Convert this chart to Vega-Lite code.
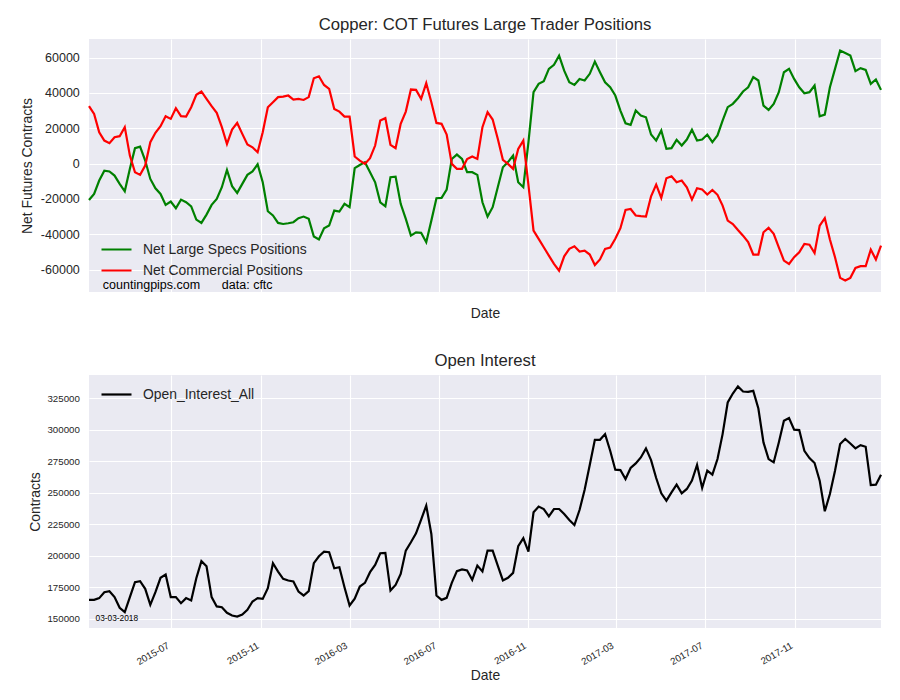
{
 "$schema": "https://vega.github.io/schema/vega-lite/v6.json",
 "background": "white",
 "padding": {"left": 20, "top": 17, "right": 5, "bottom": 5},
 "spacing": 33,
 "datasets": {"cot": [
{"date":"2015-03-10","Net Large Specs Positions":-20600,"Net Commercial Positions":32500,"Open_Interest_All":165000},
{"date":"2015-03-17","Net Large Specs Positions":-17200,"Net Commercial Positions":28100,"Open_Interest_All":165000},
{"date":"2015-03-24","Net Large Specs Positions":-9600,"Net Commercial Positions":17700,"Open_Interest_All":166400},
{"date":"2015-03-31","Net Large Specs Positions":-4000,"Net Commercial Positions":13000,"Open_Interest_All":171100},
{"date":"2015-04-07","Net Large Specs Positions":-4500,"Net Commercial Positions":11500,"Open_Interest_All":171900},
{"date":"2015-04-14","Net Large Specs Positions":-6800,"Net Commercial Positions":14900,"Open_Interest_All":167200},
{"date":"2015-04-21","Net Large Specs Positions":-11500,"Net Commercial Positions":15500,"Open_Interest_All":158700},
{"date":"2015-04-28","Net Large Specs Positions":-15700,"Net Commercial Positions":20600,"Open_Interest_All":155300},
{"date":"2015-05-05","Net Large Specs Positions":-3000,"Net Commercial Positions":4500,"Open_Interest_All":167200},
{"date":"2015-05-12","Net Large Specs Positions":8700,"Net Commercial Positions":-4900,"Open_Interest_All":179000},
{"date":"2015-05-19","Net Large Specs Positions":9600,"Net Commercial Positions":-6400,"Open_Interest_All":179800},
{"date":"2015-05-26","Net Large Specs Positions":1700,"Net Commercial Positions":-1100,"Open_Interest_All":173800},
{"date":"2015-06-02","Net Large Specs Positions":-8700,"Net Commercial Positions":12100,"Open_Interest_All":161100},
{"date":"2015-06-09","Net Large Specs Positions":-14000,"Net Commercial Positions":17400,"Open_Interest_All":171100},
{"date":"2015-06-16","Net Large Specs Positions":-17200,"Net Commercial Positions":21100,"Open_Interest_All":182500},
{"date":"2015-06-23","Net Large Specs Positions":-23400,"Net Commercial Positions":26800,"Open_Interest_All":185100},
{"date":"2015-06-30","Net Large Specs Positions":-21500,"Net Commercial Positions":25300,"Open_Interest_All":167200},
{"date":"2015-07-07","Net Large Specs Positions":-25300,"Net Commercial Positions":31300,"Open_Interest_All":167200},
{"date":"2015-07-14","Net Large Specs Positions":-20400,"Net Commercial Positions":26800,"Open_Interest_All":162400},
{"date":"2015-07-21","Net Large Specs Positions":-21900,"Net Commercial Positions":26600,"Open_Interest_All":166400},
{"date":"2015-07-28","Net Large Specs Positions":-24200,"Net Commercial Positions":31900,"Open_Interest_All":164500},
{"date":"2015-08-04","Net Large Specs Positions":-31700,"Net Commercial Positions":38900,"Open_Interest_All":182200},
{"date":"2015-08-11","Net Large Specs Positions":-33600,"Net Commercial Positions":40800,"Open_Interest_All":195700},
{"date":"2015-08-18","Net Large Specs Positions":-28900,"Net Commercial Positions":36600,"Open_Interest_All":191700},
{"date":"2015-08-25","Net Large Specs Positions":-23400,"Net Commercial Positions":32500,"Open_Interest_All":167200},
{"date":"2015-09-01","Net Large Specs Positions":-20000,"Net Commercial Positions":28700,"Open_Interest_All":159800},
{"date":"2015-09-08","Net Large Specs Positions":-13400,"Net Commercial Positions":20600,"Open_Interest_All":159200},
{"date":"2015-09-15","Net Large Specs Positions":-3600,"Net Commercial Positions":11100,"Open_Interest_All":154800},
{"date":"2015-09-22","Net Large Specs Positions":-12800,"Net Commercial Positions":19200,"Open_Interest_All":152600},
{"date":"2015-09-29","Net Large Specs Positions":-16600,"Net Commercial Positions":23000,"Open_Interest_All":151800},
{"date":"2015-10-06","Net Large Specs Positions":-11500,"Net Commercial Positions":16800,"Open_Interest_All":153400},
{"date":"2015-10-13","Net Large Specs Positions":-6400,"Net Commercial Positions":10800,"Open_Interest_All":157100},
{"date":"2015-10-20","Net Large Specs Positions":-4500,"Net Commercial Positions":9200,"Open_Interest_All":163700},
{"date":"2015-10-27","Net Large Specs Positions":-400,"Net Commercial Positions":6400,"Open_Interest_All":166400},
{"date":"2015-11-03","Net Large Specs Positions":-10600,"Net Commercial Positions":17700,"Open_Interest_All":165800},
{"date":"2015-11-10","Net Large Specs Positions":-27000,"Net Commercial Positions":31900,"Open_Interest_All":174300},
{"date":"2015-11-17","Net Large Specs Positions":-29400,"Net Commercial Positions":34700,"Open_Interest_All":194100},
{"date":"2015-11-24","Net Large Specs Positions":-33600,"Net Commercial Positions":37600,"Open_Interest_All":187500},
{"date":"2015-12-01","Net Large Specs Positions":-34200,"Net Commercial Positions":37900,"Open_Interest_All":181700},
{"date":"2015-12-08","Net Large Specs Positions":-33800,"Net Commercial Positions":38500,"Open_Interest_All":180400},
{"date":"2015-12-15","Net Large Specs Positions":-33200,"Net Commercial Positions":36200,"Open_Interest_All":179600},
{"date":"2015-12-22","Net Large Specs Positions":-30900,"Net Commercial Positions":36600,"Open_Interest_All":171600},
{"date":"2015-12-29","Net Large Specs Positions":-30000,"Net Commercial Positions":36000,"Open_Interest_All":168500},
{"date":"2016-01-05","Net Large Specs Positions":-31300,"Net Commercial Positions":37600,"Open_Interest_All":171900},
{"date":"2016-01-12","Net Large Specs Positions":-41300,"Net Commercial Positions":48300,"Open_Interest_All":194100},
{"date":"2016-01-19","Net Large Specs Positions":-43000,"Net Commercial Positions":49400,"Open_Interest_All":199600},
{"date":"2016-01-26","Net Large Specs Positions":-36600,"Net Commercial Positions":44500,"Open_Interest_All":203300},
{"date":"2016-02-02","Net Large Specs Positions":-35100,"Net Commercial Positions":42300,"Open_Interest_All":202800},
{"date":"2016-02-09","Net Large Specs Positions":-26600,"Net Commercial Positions":30900,"Open_Interest_All":190100},
{"date":"2016-02-16","Net Large Specs Positions":-27200,"Net Commercial Positions":29400,"Open_Interest_All":190900},
{"date":"2016-02-23","Net Large Specs Positions":-22800,"Net Commercial Positions":26600,"Open_Interest_All":175100},
{"date":"2016-03-01","Net Large Specs Positions":-24700,"Net Commercial Positions":26600,"Open_Interest_All":160600},
{"date":"2016-03-08","Net Large Specs Positions":-2600,"Net Commercial Positions":4000,"Open_Interest_All":166000},
{"date":"2016-03-15","Net Large Specs Positions":-800,"Net Commercial Positions":1700,"Open_Interest_All":175600},
{"date":"2016-03-22","Net Large Specs Positions":800,"Net Commercial Positions":-200,"Open_Interest_All":178500},
{"date":"2016-03-29","Net Large Specs Positions":-4900,"Net Commercial Positions":3000,"Open_Interest_All":187000},
{"date":"2016-04-05","Net Large Specs Positions":-10600,"Net Commercial Positions":10200,"Open_Interest_All":192800},
{"date":"2016-04-12","Net Large Specs Positions":-21900,"Net Commercial Positions":24300,"Open_Interest_All":202000},
{"date":"2016-04-19","Net Large Specs Positions":-24200,"Net Commercial Positions":25700,"Open_Interest_All":202300},
{"date":"2016-04-26","Net Large Specs Positions":-7700,"Net Commercial Positions":10600,"Open_Interest_All":172400},
{"date":"2016-05-03","Net Large Specs Positions":-7400,"Net Commercial Positions":8700,"Open_Interest_All":176900},
{"date":"2016-05-10","Net Large Specs Positions":-22800,"Net Commercial Positions":22500,"Open_Interest_All":185600},
{"date":"2016-05-17","Net Large Specs Positions":-31300,"Net Commercial Positions":29400,"Open_Interest_All":204100},
{"date":"2016-05-24","Net Large Specs Positions":-40800,"Net Commercial Positions":41900,"Open_Interest_All":210700},
{"date":"2016-05-31","Net Large Specs Positions":-38900,"Net Commercial Positions":41700,"Open_Interest_All":217800},
{"date":"2016-06-07","Net Large Specs Positions":-39200,"Net Commercial Positions":36600,"Open_Interest_All":228700},
{"date":"2016-06-14","Net Large Specs Positions":-44500,"Net Commercial Positions":45500,"Open_Interest_All":239800},
{"date":"2016-06-21","Net Large Specs Positions":-32300,"Net Commercial Positions":34700,"Open_Interest_All":217300},
{"date":"2016-06-28","Net Large Specs Positions":-19600,"Net Commercial Positions":23000,"Open_Interest_All":168500},
{"date":"2016-07-05","Net Large Specs Positions":-19400,"Net Commercial Positions":22500,"Open_Interest_All":165000},
{"date":"2016-07-12","Net Large Specs Positions":-14700,"Net Commercial Positions":16400,"Open_Interest_All":166600},
{"date":"2016-07-19","Net Large Specs Positions":2600,"Net Commercial Positions":-200,"Open_Interest_All":178500},
{"date":"2016-07-26","Net Large Specs Positions":5100,"Net Commercial Positions":-3000,"Open_Interest_All":187800},
{"date":"2016-08-02","Net Large Specs Positions":2600,"Net Commercial Positions":-3000,"Open_Interest_All":189100},
{"date":"2016-08-09","Net Large Specs Positions":-4900,"Net Commercial Positions":2600,"Open_Interest_All":188300},
{"date":"2016-08-16","Net Large Specs Positions":-4900,"Net Commercial Positions":4000,"Open_Interest_All":180900},
{"date":"2016-08-23","Net Large Specs Positions":-6400,"Net Commercial Positions":2600,"Open_Interest_All":192200},
{"date":"2016-08-30","Net Large Specs Positions":-21900,"Net Commercial Positions":20600,"Open_Interest_All":187500},
{"date":"2016-09-06","Net Large Specs Positions":-30000,"Net Commercial Positions":29100,"Open_Interest_All":204100},
{"date":"2016-09-13","Net Large Specs Positions":-24700,"Net Commercial Positions":24900,"Open_Interest_All":204100},
{"date":"2016-09-20","Net Large Specs Positions":-13400,"Net Commercial Positions":14000,"Open_Interest_All":192200},
{"date":"2016-09-27","Net Large Specs Positions":-2100,"Net Commercial Positions":2100,"Open_Interest_All":180400},
{"date":"2016-10-04","Net Large Specs Positions":800,"Net Commercial Positions":-200,"Open_Interest_All":182500},
{"date":"2016-10-11","Net Large Specs Positions":4500,"Net Commercial Positions":-3000,"Open_Interest_All":186400},
{"date":"2016-10-18","Net Large Specs Positions":-10600,"Net Commercial Positions":8300,"Open_Interest_All":207600},
{"date":"2016-10-25","Net Large Specs Positions":-13400,"Net Commercial Positions":13000,"Open_Interest_All":213900},
{"date":"2016-11-01","Net Large Specs Positions":12000,"Net Commercial Positions":-12000,"Open_Interest_All":203300},
{"date":"2016-11-08","Net Large Specs Positions":40400,"Net Commercial Positions":-37900,"Open_Interest_All":234500},
{"date":"2016-11-15","Net Large Specs Positions":45100,"Net Commercial Positions":-42600,"Open_Interest_All":239000},
{"date":"2016-11-22","Net Large Specs Positions":46600,"Net Commercial Positions":-47400,"Open_Interest_All":237100},
{"date":"2016-11-29","Net Large Specs Positions":53600,"Net Commercial Positions":-52100,"Open_Interest_All":231300},
{"date":"2016-12-06","Net Large Specs Positions":55900,"Net Commercial Positions":-56800,"Open_Interest_All":237100},
{"date":"2016-12-13","Net Large Specs Positions":61100,"Net Commercial Positions":-60600,"Open_Interest_All":237100},
{"date":"2016-12-20","Net Large Specs Positions":52600,"Net Commercial Positions":-52500,"Open_Interest_All":233200},
{"date":"2016-12-27","Net Large Specs Positions":46000,"Net Commercial Positions":-48300,"Open_Interest_All":228400},
{"date":"2017-01-03","Net Large Specs Positions":44500,"Net Commercial Positions":-46800,"Open_Interest_All":224400},
{"date":"2017-01-10","Net Large Specs Positions":47900,"Net Commercial Positions":-49800,"Open_Interest_All":236300},
{"date":"2017-01-17","Net Large Specs Positions":47000,"Net Commercial Positions":-49300,"Open_Interest_All":252400},
{"date":"2017-01-24","Net Large Specs Positions":50800,"Net Commercial Positions":-51500,"Open_Interest_All":272000},
{"date":"2017-01-31","Net Large Specs Positions":57700,"Net Commercial Positions":-57400,"Open_Interest_All":292000},
{"date":"2017-02-07","Net Large Specs Positions":51700,"Net Commercial Positions":-54300,"Open_Interest_All":292000},
{"date":"2017-02-14","Net Large Specs Positions":46000,"Net Commercial Positions":-48300,"Open_Interest_All":296500},
{"date":"2017-02-21","Net Large Specs Positions":43200,"Net Commercial Positions":-47600,"Open_Interest_All":283300},
{"date":"2017-02-28","Net Large Specs Positions":38500,"Net Commercial Positions":-42600,"Open_Interest_All":268300},
{"date":"2017-03-07","Net Large Specs Positions":30000,"Net Commercial Positions":-36600,"Open_Interest_All":268000},
{"date":"2017-03-14","Net Large Specs Positions":22800,"Net Commercial Positions":-26200,"Open_Interest_All":260900},
{"date":"2017-03-21","Net Large Specs Positions":21900,"Net Commercial Positions":-25700,"Open_Interest_All":269600},
{"date":"2017-03-28","Net Large Specs Positions":30000,"Net Commercial Positions":-29400,"Open_Interest_All":273300},
{"date":"2017-04-04","Net Large Specs Positions":27200,"Net Commercial Positions":-29800,"Open_Interest_All":278000},
{"date":"2017-04-11","Net Large Specs Positions":26200,"Net Commercial Positions":-30000,"Open_Interest_All":285200},
{"date":"2017-04-18","Net Large Specs Positions":16400,"Net Commercial Positions":-18500,"Open_Interest_All":275900},
{"date":"2017-04-25","Net Large Specs Positions":13000,"Net Commercial Positions":-11900,"Open_Interest_All":261700},
{"date":"2017-05-02","Net Large Specs Positions":18700,"Net Commercial Positions":-19400,"Open_Interest_All":249500},
{"date":"2017-05-09","Net Large Specs Positions":8300,"Net Commercial Positions":-8300,"Open_Interest_All":243700},
{"date":"2017-05-16","Net Large Specs Positions":8700,"Net Commercial Positions":-7200,"Open_Interest_All":250300},
{"date":"2017-05-23","Net Large Specs Positions":13400,"Net Commercial Positions":-10600,"Open_Interest_All":256400},
{"date":"2017-05-30","Net Large Specs Positions":10200,"Net Commercial Positions":-9600,"Open_Interest_All":249500},
{"date":"2017-06-06","Net Large Specs Positions":13600,"Net Commercial Positions":-13400,"Open_Interest_All":253000},
{"date":"2017-06-13","Net Large Specs Positions":19100,"Net Commercial Positions":-20400,"Open_Interest_All":259600},
{"date":"2017-06-20","Net Large Specs Positions":13000,"Net Commercial Positions":-14000,"Open_Interest_All":272000},
{"date":"2017-06-27","Net Large Specs Positions":13600,"Net Commercial Positions":-14700,"Open_Interest_All":253800},
{"date":"2017-07-04","Net Large Specs Positions":16400,"Net Commercial Positions":-17500,"Open_Interest_All":267500},
{"date":"2017-07-11","Net Large Specs Positions":12100,"Net Commercial Positions":-14900,"Open_Interest_All":264300},
{"date":"2017-07-18","Net Large Specs Positions":15900,"Net Commercial Positions":-17700,"Open_Interest_All":276700},
{"date":"2017-07-25","Net Large Specs Positions":24300,"Net Commercial Positions":-23800,"Open_Interest_All":296500},
{"date":"2017-08-01","Net Large Specs Positions":31900,"Net Commercial Positions":-32300,"Open_Interest_All":321600},
{"date":"2017-08-08","Net Large Specs Positions":33800,"Net Commercial Positions":-34200,"Open_Interest_All":328700},
{"date":"2017-08-15","Net Large Specs Positions":37000,"Net Commercial Positions":-37600,"Open_Interest_All":334300},
{"date":"2017-08-22","Net Large Specs Positions":40800,"Net Commercial Positions":-40800,"Open_Interest_All":330300},
{"date":"2017-08-29","Net Large Specs Positions":43200,"Net Commercial Positions":-44500,"Open_Interest_All":330000},
{"date":"2017-09-05","Net Large Specs Positions":48900,"Net Commercial Positions":-51500,"Open_Interest_All":330800},
{"date":"2017-09-12","Net Large Specs Positions":47000,"Net Commercial Positions":-51500,"Open_Interest_All":316800},
{"date":"2017-09-19","Net Large Specs Positions":32800,"Net Commercial Positions":-38900,"Open_Interest_All":289900},
{"date":"2017-09-26","Net Large Specs Positions":30400,"Net Commercial Positions":-36400,"Open_Interest_All":276700},
{"date":"2017-10-03","Net Large Specs Positions":33800,"Net Commercial Positions":-39800,"Open_Interest_All":274100},
{"date":"2017-10-10","Net Large Specs Positions":40400,"Net Commercial Positions":-47400,"Open_Interest_All":289900},
{"date":"2017-10-17","Net Large Specs Positions":51700,"Net Commercial Positions":-54900,"Open_Interest_All":307100},
{"date":"2017-10-24","Net Large Specs Positions":53600,"Net Commercial Positions":-56800,"Open_Interest_All":309200},
{"date":"2017-10-31","Net Large Specs Positions":47900,"Net Commercial Positions":-53000,"Open_Interest_All":300000},
{"date":"2017-11-07","Net Large Specs Positions":43200,"Net Commercial Positions":-50200,"Open_Interest_All":299700},
{"date":"2017-11-14","Net Large Specs Positions":39800,"Net Commercial Positions":-45500,"Open_Interest_All":283300},
{"date":"2017-11-21","Net Large Specs Positions":40400,"Net Commercial Positions":-45900,"Open_Interest_All":277500},
{"date":"2017-11-28","Net Large Specs Positions":44200,"Net Commercial Positions":-50600,"Open_Interest_All":273600},
{"date":"2017-12-05","Net Large Specs Positions":26800,"Net Commercial Positions":-35100,"Open_Interest_All":259600},
{"date":"2017-12-12","Net Large Specs Positions":27700,"Net Commercial Positions":-30900,"Open_Interest_All":235300},
{"date":"2017-12-19","Net Large Specs Positions":43200,"Net Commercial Positions":-43000,"Open_Interest_All":249000},
{"date":"2017-12-26","Net Large Specs Positions":53600,"Net Commercial Positions":-53000,"Open_Interest_All":267500},
{"date":"2018-01-02","Net Large Specs Positions":64000,"Net Commercial Positions":-64700,"Open_Interest_All":288600},
{"date":"2018-01-09","Net Large Specs Positions":62600,"Net Commercial Positions":-66200,"Open_Interest_All":292600},
{"date":"2018-01-16","Net Large Specs Positions":61100,"Net Commercial Positions":-64700,"Open_Interest_All":289100},
{"date":"2018-01-23","Net Large Specs Positions":52300,"Net Commercial Positions":-59100,"Open_Interest_All":285200},
{"date":"2018-01-30","Net Large Specs Positions":54000,"Net Commercial Positions":-58100,"Open_Interest_All":287800},
{"date":"2018-02-06","Net Large Specs Positions":53000,"Net Commercial Positions":-58100,"Open_Interest_All":286500},
{"date":"2018-02-13","Net Large Specs Positions":45100,"Net Commercial Positions":-48700,"Open_Interest_All":256100},
{"date":"2018-02-20","Net Large Specs Positions":47600,"Net Commercial Positions":-54300,"Open_Interest_All":256400},
{"date":"2018-02-27","Net Large Specs Positions":41700,"Net Commercial Positions":-46400,"Open_Interest_All":264300}
 ]},
 "vconcat": [
  {
   "width": 792,
   "height": 253,
   "title": {"text": "Copper: COT Futures Large Trader Positions", "offset": 5},
   "data": {"name": "cot"},
   "layer": [
    {
     "transform": [{"fold": ["Net Large Specs Positions", "Net Commercial Positions"], "as": ["series", "value"]}],
     "mark": {"type": "line", "strokeWidth": 2.2},
     "encoding": {
      "x": {"field": "date", "type": "temporal",
            "scale": {"type": "utc", "nice": false, "domain": [{"year": 2015, "month": 3, "date": 10, "utc": true}, {"year": 2018, "month": 2, "date": 27, "utc": true}]},
            "axis": {"title": "Date", "labels": false, "titlePadding": 14, "tickCount": 20,
                     "values": [{"year": 2015, "month": 7, "date": 1, "utc": true}, {"year": 2015, "month": 11, "date": 1, "utc": true}, {"year": 2016, "month": 3, "date": 1, "utc": true}, {"year": 2016, "month": 7, "date": 1, "utc": true}, {"year": 2016, "month": 11, "date": 1, "utc": true}, {"year": 2017, "month": 3, "date": 1, "utc": true}, {"year": 2017, "month": 7, "date": 1, "utc": true}, {"year": 2017, "month": 11, "date": 1, "utc": true}]}},
      "y": {"field": "value", "type": "quantitative",
            "scale": {"domain": [-72700, 70500], "nice": false, "zero": false},
            "axis": {"title": "Net Futures Contracts", "format": "d", "labelFontSize": 12.5, "titlePadding": 6, "labelOverlap": false, "tickCount": 10,
                     "values": [-60000, -40000, -20000, 0, 20000, 40000, 60000]}},
      "color": {"field": "series", "type": "nominal",
                "scale": {"domain": ["Net Large Specs Positions", "Net Commercial Positions"], "range": ["#008000", "#FF0000"]},
                "legend": {"legendX": 11, "legendY": 200, "rowPadding": 0, "clipHeight": 21}}
     }
    },
    {
     "data": {"values": [{}]},
     "mark": {"type": "text", "align": "left", "baseline": "middle", "fontSize": 12.5, "color": "#000000"},
     "encoding": {
      "x": {"datum": {"year": 2015, "month": 3, "date": 29, "utc": true}, "type": "temporal"},
      "y": {"datum": -68500, "type": "quantitative"},
      "text": {"value": "countingpips.com"}
     }
    },
    {
     "data": {"values": [{}]},
     "mark": {"type": "text", "align": "left", "baseline": "middle", "fontSize": 12.5, "color": "#000000"},
     "encoding": {
      "x": {"datum": {"year": 2015, "month": 9, "date": 8, "utc": true}, "type": "temporal"},
      "y": {"datum": -68500, "type": "quantitative"},
      "text": {"value": "data: cftc"}
     }
    }
   ]
  },
  {
   "width": 792,
   "height": 253,
   "title": {"text": "Open Interest", "offset": 5},
   "data": {"name": "cot"},
   "layer": [
    {
     "transform": [{"fold": ["Open_Interest_All"], "as": ["series", "value"]}],
     "mark": {"type": "line", "strokeWidth": 2.2},
     "encoding": {
      "x": {"field": "date", "type": "temporal",
            "scale": {"type": "utc", "nice": false, "domain": [{"year": 2015, "month": 3, "date": 10, "utc": true}, {"year": 2018, "month": 2, "date": 27, "utc": true}]},
            "axis": {"title": "Date", "labelExpr": "utcFormat(datum.value, '%Y-%m')", "labelAngle": -30, "labelAlign": "right", "labelBaseline": "top", "labelFontSize": 9.7, "labelPadding": 12, "labelOffset": -6, "titlePadding": 2, "labelOverlap": false, "tickCount": 20,
                     "values": [{"year": 2015, "month": 7, "date": 1, "utc": true}, {"year": 2015, "month": 11, "date": 1, "utc": true}, {"year": 2016, "month": 3, "date": 1, "utc": true}, {"year": 2016, "month": 7, "date": 1, "utc": true}, {"year": 2016, "month": 11, "date": 1, "utc": true}, {"year": 2017, "month": 3, "date": 1, "utc": true}, {"year": 2017, "month": 7, "date": 1, "utc": true}, {"year": 2017, "month": 11, "date": 1, "utc": true}]}},
      "y": {"field": "value", "type": "quantitative",
            "scale": {"domain": [142700, 343400], "nice": false, "zero": false},
            "axis": {"title": "Contracts", "format": "d", "labelFontSize": 9.7, "titlePadding": 4, "labelOverlap": false, "tickCount": 10,
                     "values": [150000, 175000, 200000, 225000, 250000, 275000, 300000, 325000]}},
      "color": {"field": "series", "type": "nominal",
                "scale": {"domain": ["Open_Interest_All"], "range": ["#000000"]},
                "legend": {"legendX": 11, "legendY": 3}}
     }
    },
    {
     "data": {"values": [{}]},
     "mark": {"type": "text", "align": "left", "baseline": "middle", "fontSize": 8.3, "color": "#000000"},
     "encoding": {
      "x": {"datum": {"year": 2015, "month": 3, "date": 19, "utc": true}, "type": "temporal"},
      "y": {"datum": 150000, "type": "quantitative"},
      "text": {"value": "03-03-2018"}
     }
    }
   ],
   "resolve": {"scale": {"color": "independent"}}
  }
 ],
 "resolve": {"scale": {"color": "independent"}},
 "config": {
  "font": "Liberation Sans",
  "view": {"fill": "#EAEAF2", "stroke": null},
  "axis": {"domain": false, "ticks": false, "grid": true, "gridColor": "#FFFFFF", "gridWidth": 1.1, "labelColor": "#262626", "titleColor": "#262626", "titleFontWeight": "normal", "titleFontSize": 13.9, "labelPadding": 9.7, "labelFont": "Liberation Sans", "titleFont": "Liberation Sans"},
  "title": {"font": "Liberation Sans", "fontSize": 16.7, "fontWeight": "normal", "color": "#262626", "anchor": "middle"},
  "legend": {"orient": "none", "title": null, "symbolType": "stroke", "symbolStrokeWidth": 2.2, "symbolSize": 900, "labelFontSize": 13.9, "labelColor": "#262626", "labelFont": "Liberation Sans", "labelOffset": 10, "labelLimit": 400},
  "locale": {"number": {"decimal": ".", "thousands": ",", "grouping": [3], "currency": ["$", ""], "minus": "-"}}
 }
}
